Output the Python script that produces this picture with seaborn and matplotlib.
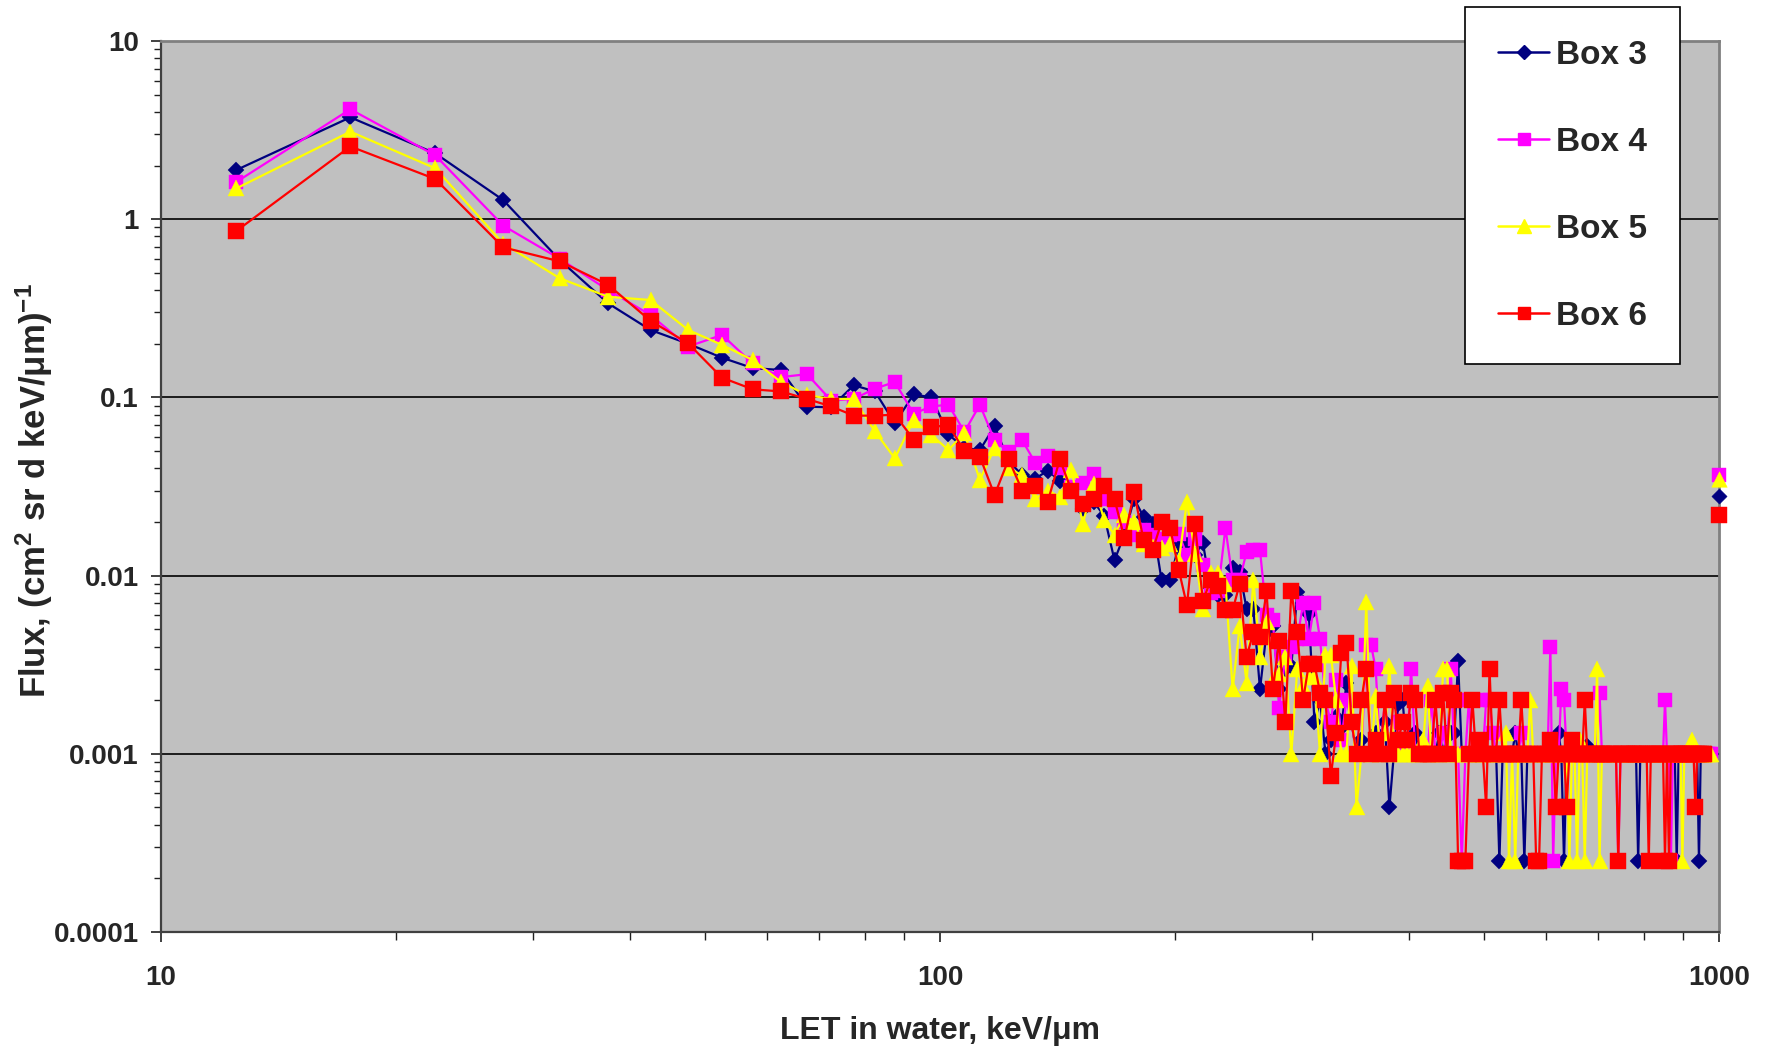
import numpy as np
import pandas as pd
import matplotlib
matplotlib.use("Agg")
import matplotlib.pyplot as plt
import seaborn as sns
from matplotlib.lines import Line2D
from matplotlib.ticker import FixedLocator, FixedFormatter, LogLocator, NullFormatter

# ---------------- data ----------------
# LET bins of 5 keV/um, centres 12.5 ... 977.5
LET = np.arange(12.5, 980.0, 5.0)
LET_END = 1000.0   # overflow point plotted at the axis end

box3 = [1.89, 3.73, 2.34, 1.28, 0.59, 0.337, 0.239, 0.20, 0.167, 0.146,
        0.1425, 0.0887, 0.088, 0.117, 0.108, 0.0716, 0.104, 0.100, 0.062, 0.052,
        0.0506, 0.069, 0.044, 0.0366, 0.035, 0.0388, 0.034, 0.030, 0.0235, 0.026,
        0.0216, 0.0122, 0.017, 0.027, 0.0214, 0.0196, 0.0094, 0.0095, 0.0148, 0.0148,
        0.013, 0.0153, 0.0085, 0.0078,
        0.0078, 0.0111, 0.0105, 0.0065, 0.0065, 0.0023, 0.0048, 0.0052, 0.0023, 0.0030,
        0.0031, 0.0081, 0.0070, 0.0061, 0.0015, 0.0020, 0.0010, 0.0012, 0.0016, 0.0014,
        0.0025, 0.0015, 0.0010, 0.0012, 0.0010, 0.0010, 0.0013, 0.0010, 0.0015, 0.0005,
        0.0010, 0.0019, 0.0020, 0.0010, 0.0010, 0.0013, 0.0010, 0.0010, 0.0010, 0.0010,
        0.0010, 0.0013, 0.0010, 0.0013, 0.0013, 0.0013, 0.0033, 0.0010, 0.0010, 0.0010,
        0.0010, 0.0010, 0.0010, 0.0010, 0.0010, 0.0010, 0.0010, 0.0010, 0.00025, 0.0010,
        0.0010, 0.0010, 0.0010, 0.0013, 0.0010, 0.0010, 0.00025, 0.0010, 0.0010, 0.0010,
        0.0010, 0.0010, 0.0010, 0.0010, 0.0010, 0.0010, 0.0010, 0.0010, 0.0013, 0.0010,
        0.00025, 0.0010, 0.0010, 0.0010, 0.0010, 0.0010, 0.0010, 0.0010, 0.0010, 0.0011,
        0.0010, 0.0010, 0.0010, 0.0010, 0.0010, 0.0010, 0.0010, 0.0010, 0.0010, 0.0010,
        0.0010, 0.0010, 0.0010, 0.0010, 0.0010, 0.0010, 0.0010, 0.0010, 0.0010, 0.0010,
        0.0010, 0.00025, 0.0010, 0.0010, 0.0010, 0.0010, 0.0010, 0.0010, 0.0010, 0.0010,
        0.0010, 0.0010, 0.0010, 0.0010, 0.0010, 0.0010, 0.0010, 0.0010, 0.0010, 0.0010,
        0.00025, 0.0010, 0.0010, 0.0010, 0.0010, 0.0010, 0.0010, 0.0010, 0.0010, 0.0010,
        0.0010, 0.0010, 0.00025, 0.0010, 0.0010, 0.0010, 0.0010, 0.0010, 0.0010, 0.0010]

box4 = [1.62, 4.14, 2.28, 0.92, 0.60, 0.40, 0.29, 0.193, 0.224, 0.155,
        0.13, 0.135, 0.096, 0.098, 0.112, 0.122, 0.081, 0.089, 0.091, 0.064,
        0.091, 0.0575, 0.0495, 0.0575, 0.043, 0.0468, 0.040, 0.0315, 0.033, 0.037,
        0.027, 0.0228, 0.020, 0.017, 0.018, 0.017, 0.016, 0.017, 0.0172, 0.013,
        0.016, 0.0115, 0.008, 0.0082,
        0.0185, 0.0095, 0.0095, 0.0136, 0.0139, 0.0139, 0.0060, 0.0056, 0.0018, 0.0035,
        0.0040, 0.0044, 0.0070, 0.0044, 0.0070, 0.0044, 0.0020, 0.0015, 0.0026, 0.0012,
        0.0020, 0.0015, 0.0010, 0.0010, 0.0041, 0.0041, 0.0030, 0.0010, 0.0020, 0.0010,
        0.0010, 0.0015, 0.0010, 0.0010, 0.0030, 0.0010, 0.0010, 0.0010, 0.0010, 0.0020,
        0.0010, 0.0010, 0.0013, 0.0010, 0.0030, 0.0010, 0.0010, 0.00025, 0.0010, 0.0020,
        0.0010, 0.0010, 0.0010, 0.0010, 0.0020, 0.0020, 0.0013, 0.0010, 0.0010, 0.0010,
        0.0010, 0.0010, 0.0010, 0.0010, 0.0010, 0.0013, 0.0010, 0.0010, 0.0010, 0.0010,
        0.0010, 0.0010, 0.0010, 0.0010, 0.0010, 0.0040, 0.00025, 0.0010, 0.0010, 0.0023,
        0.0020, 0.0010, 0.0010, 0.0010, 0.0010, 0.0010, 0.0010, 0.0010, 0.0010, 0.0010,
        0.0010, 0.0010, 0.0010, 0.0010, 0.0022, 0.0010, 0.0010, 0.0010, 0.0010, 0.0010,
        0.0010, 0.0010, 0.00025, 0.0010, 0.0010, 0.0010, 0.0010, 0.0010, 0.0010, 0.0010,
        0.0010, 0.0010, 0.0010, 0.0010, 0.0010, 0.0010, 0.0010, 0.0010, 0.0010, 0.0010,
        0.0010, 0.0010, 0.0010, 0.0010, 0.0020, 0.0010, 0.0010, 0.00025, 0.0010, 0.0010,
        0.0010, 0.0010, 0.0010, 0.0010, 0.0010, 0.0010, 0.0010, 0.0010, 0.0010, 0.0010,
        0.0010, 0.0010, 0.0010, 0.0010, 0.0010, 0.0010, 0.0010, 0.0010, 0.0010, 0.0010]

box5 = [1.49, 3.10, 1.93, 0.73, 0.466, 0.367, 0.352, 0.239, 0.197, 0.162,
        0.122, 0.103, 0.098, 0.098, 0.0645, 0.0455, 0.0746, 0.0616, 0.0507, 0.063,
        0.0344, 0.052, 0.040, 0.0366, 0.027, 0.030, 0.0277, 0.039, 0.0196, 0.0327,
        0.0205, 0.0169, 0.0219, 0.020, 0.015, 0.0145, 0.0142, 0.0151, 0.012, 0.026,
        0.0133, 0.0065, 0.0103, 0.0103,
        0.0090, 0.0023, 0.0052, 0.0025, 0.0095, 0.0035, 0.0055, 0.0026, 0.0028, 0.0035,
        0.0010, 0.0030, 0.0024, 0.0027, 0.0027, 0.0010, 0.0036, 0.0036, 0.0020, 0.0010,
        0.0010, 0.0031, 0.0005, 0.0010, 0.0071, 0.0010, 0.0021, 0.0010, 0.0013, 0.0031,
        0.0010, 0.0010, 0.0010, 0.0010, 0.0010, 0.0010, 0.0010, 0.0012, 0.0024, 0.0010,
        0.0010, 0.0010, 0.0030, 0.0030, 0.0010, 0.0010, 0.0010, 0.0010, 0.0010, 0.0010,
        0.0010, 0.0010, 0.0010, 0.0010, 0.0010, 0.0010, 0.0010, 0.0010, 0.0010, 0.0010,
        0.0013, 0.00025, 0.0010, 0.00025, 0.0010, 0.0010, 0.0010, 0.0010, 0.0020, 0.0010,
        0.0010, 0.0010, 0.0010, 0.0010, 0.0010, 0.0010, 0.0010, 0.0010, 0.0010, 0.0010,
        0.0010, 0.0010, 0.00025, 0.0010, 0.0010, 0.00025, 0.0012, 0.0010, 0.00025, 0.0010,
        0.0010, 0.0010, 0.0010, 0.0030, 0.00025, 0.0010, 0.0010, 0.0010, 0.0010, 0.0010,
        0.0010, 0.0010, 0.0010, 0.0010, 0.0010, 0.0010, 0.0010, 0.0010, 0.0010, 0.0010,
        0.0010, 0.0010, 0.0010, 0.0010, 0.0010, 0.0010, 0.0010, 0.0010, 0.0010, 0.0010,
        0.0010, 0.0010, 0.0010, 0.0010, 0.0010, 0.0010, 0.0010, 0.0010, 0.0010, 0.0010,
        0.0010, 0.0010, 0.0010, 0.00025, 0.0010, 0.0010, 0.0010, 0.0010, 0.0012, 0.0010,
        0.0010, 0.0010, 0.0010, 0.0010, 0.0010, 0.0010, 0.0010, 0.0010, 0.0010, 0.0010]

box6 = [0.86, 2.56, 1.68, 0.695, 0.58, 0.428, 0.269, 0.201, 0.129, 0.111,
        0.108, 0.098, 0.089, 0.079, 0.079, 0.080, 0.058, 0.068, 0.070, 0.050,
        0.0465, 0.0283, 0.045, 0.030, 0.032, 0.026, 0.0449, 0.030, 0.0252, 0.027,
        0.032, 0.0268, 0.0162, 0.0293, 0.0158, 0.0139, 0.020, 0.0184, 0.0108, 0.0068,
        0.0195, 0.0072, 0.0094, 0.0087,
        0.0064, 0.0064, 0.0090, 0.0035, 0.0048, 0.0045, 0.0082, 0.0023, 0.0043, 0.0015,
        0.0082, 0.0048, 0.0020, 0.0032, 0.0032, 0.0022, 0.0020, 0.00075, 0.0013, 0.0037,
        0.0042, 0.0015, 0.0010, 0.0020, 0.0030, 0.0010, 0.0012, 0.0010, 0.0020, 0.0010,
        0.0022, 0.0012, 0.0015, 0.0012, 0.0022, 0.0020, 0.0010, 0.0010, 0.0010, 0.0010,
        0.0020, 0.0010, 0.0022, 0.0010, 0.0022, 0.0020, 0.00025, 0.00025, 0.00025, 0.0010,
        0.0020, 0.0010, 0.0012, 0.0010, 0.0005, 0.0030, 0.0010, 0.0010, 0.0020, 0.0010,
        0.0010, 0.0010, 0.0010, 0.0010, 0.0010, 0.0020, 0.0010, 0.0010, 0.0010, 0.0010,
        0.00025, 0.00025, 0.0010, 0.0010, 0.0010, 0.0012, 0.0010, 0.0005, 0.0010, 0.0010,
        0.0010, 0.0005, 0.0010, 0.0012, 0.0010, 0.0010, 0.0010, 0.0010, 0.0020, 0.0010,
        0.0010, 0.0010, 0.0010, 0.0010, 0.0010, 0.0010, 0.0010, 0.0010, 0.0010, 0.0010,
        0.0010, 0.0010, 0.00025, 0.0010, 0.0010, 0.0010, 0.0010, 0.0010, 0.0010, 0.0010,
        0.0010, 0.0010, 0.0010, 0.0010, 0.0010, 0.0010, 0.00025, 0.0010, 0.0010, 0.0010,
        0.0010, 0.0010, 0.0010, 0.0010, 0.00025, 0.0010, 0.00025, 0.0010, 0.0010, 0.0010,
        0.0010, 0.0010, 0.0010, 0.0010, 0.0010, 0.0010, 0.0010, 0.0010, 0.0010, 0.0010,
        0.0005, 0.0010, 0.0010, 0.0010, 0.0010, 0.0010, np.nan, np.nan, np.nan, np.nan]

end_values = [0.028, 0.0365, 0.035, 0.022]   # Box 3..6 at LET = 1000

series_names = ["Box 3", "Box 4", "Box 5", "Box 6"]
series_values = [box3, box4, box5, box6]
colors = ["#000080", "#FF00FF", "#FFFF00", "#FF0000"]
markers = ["D", "s", "^", "s"]
msizes = [7.8, 9.6, 11.2, 11.0]

y_ticks = [1e-4, 1e-3, 1e-2, 1e-1, 1, 10]
y_ticklabels = ["0.0001", "0.001", "0.01", "0.1", "1", "10"]
x_ticks = [10, 100, 1000]
x_ticklabels = ["10", "100", "1000"]

# ---------------- style ----------------
sns.set_style("ticks")
plt.rcParams["font.family"] = ["Liberation Sans", "DejaVu Sans"]
plt.rcParams["font.weight"] = "bold"
plt.rcParams["mathtext.fontset"] = "custom"
plt.rcParams["mathtext.rm"] = "Liberation Sans:bold"
plt.rcParams["mathtext.bf"] = "Liberation Sans:bold"
plt.rcParams["mathtext.default"] = "bf"

W, H = 1771, 1055
fig = plt.figure(figsize=(W / 100, H / 100), dpi=100)
fig.patch.set_facecolor("white")
L, R, T, B = 161, 1719, 41, 932
ax = fig.add_axes([L / W, 1 - B / H, (R - L) / W, (B - T) / H])
ax.set_facecolor("#C0C0C0")
ax.set_xscale("log")
ax.set_yscale("log")

frames = []
for name, vals in zip(series_names, series_values):
    frames.append(pd.DataFrame({"LET": LET, "flux": vals, "box": name}))
df = pd.concat(frames, ignore_index=True).dropna()

for i, name in enumerate(series_names):
    sub = df[df["box"] == name]
    sns.lineplot(data=sub, x="LET", y="flux", ax=ax, color=colors[i],
                 marker=markers[i], markersize=msizes[i],
                 markeredgecolor=colors[i], markeredgewidth=0.3,
                 linewidth=1.6, estimator=None, sort=False, legend=False,
                 zorder=3 + i)

end_df = pd.DataFrame({"LET": [LET_END] * 4, "flux": end_values, "box": series_names})
for i, name in enumerate(series_names):
    sub = end_df[end_df["box"] == name]
    sns.scatterplot(data=sub, x="LET", y="flux", ax=ax, color=colors[i],
                    marker=markers[i], s=msizes[i] ** 2, edgecolor=colors[i],
                    linewidth=0.3, legend=False, zorder=3 + i, clip_on=False)

ax.set_xlim(10, 1000)
ax.set_ylim(1e-4, 10)

ax.yaxis.set_major_locator(FixedLocator(y_ticks))
ax.yaxis.set_major_formatter(FixedFormatter(y_ticklabels))
ax.yaxis.set_minor_locator(LogLocator(base=10, subs=np.arange(2, 10)))
ax.yaxis.set_minor_formatter(NullFormatter())
ax.xaxis.set_major_locator(FixedLocator(x_ticks))
ax.xaxis.set_major_formatter(FixedFormatter(x_ticklabels))
ax.xaxis.set_minor_locator(LogLocator(base=10, subs=np.arange(2, 10)))
ax.xaxis.set_minor_formatter(NullFormatter())

ax.grid(False)
ax.yaxis.grid(True, which="major", color="black", linewidth=1.2)
ax.set_axisbelow(True)

ax.tick_params(axis="y", which="major", direction="out", length=7, width=1.2,
               color="#202020", labelsize=20, pad=9)
ax.tick_params(axis="y", which="minor", direction="out", length=5, width=1.0,
               color="#202020")
ax.tick_params(axis="x", which="major", direction="out", length=7, width=1.2,
               color="#202020", labelsize=20, pad=17)
ax.tick_params(axis="x", which="minor", direction="out", length=6, width=1.0,
               color="#202020")
for lab in ax.get_xticklabels() + ax.get_yticklabels():
    lab.set_fontweight("bold")

for s in ["top", "right"]:
    ax.spines[s].set_color("#808080")
    ax.spines[s].set_linewidth(2.0)
for s in ["left", "bottom"]:
    ax.spines[s].set_color("#404040")
    ax.spines[s].set_linewidth(1.6)

ax.set_xlabel("")
ax.set_ylabel("")
fig.text(940 / W, 1 - 1031 / H, "LET in water, keV/\u03bcm", ha="center", va="center",
         fontsize=23, fontweight="bold")
fig.text(34 / W, 1 - 491 / H, "Flux, (cm$^{2}$ sr d keV/\u03bcm)$^{-1}$", ha="center",
         va="center", rotation=90, fontsize=25, fontweight="bold")

handles = [Line2D([0], [0], color=colors[i], marker=markers[i], markersize=msizes[i] * 0.85,
                  markeredgecolor=colors[i], linewidth=1.8) for i in range(4)]
leg = fig.legend(handles, series_names, loc="upper left",
                 bbox_to_anchor=(1465 / W, 1 - 7 / H), frameon=True, fancybox=False,
                 edgecolor="black", framealpha=1, facecolor="white",
                 prop={"size": 24, "weight": "bold"}, handlelength=1.55,
                 handletextpad=0.2, labelspacing=1.68, borderpad=0.98,
                 borderaxespad=0)
leg.get_frame().set_linewidth(1.2)
leg.set_zorder(20)

fig.savefig("out.png", dpi=100, facecolor="white")
